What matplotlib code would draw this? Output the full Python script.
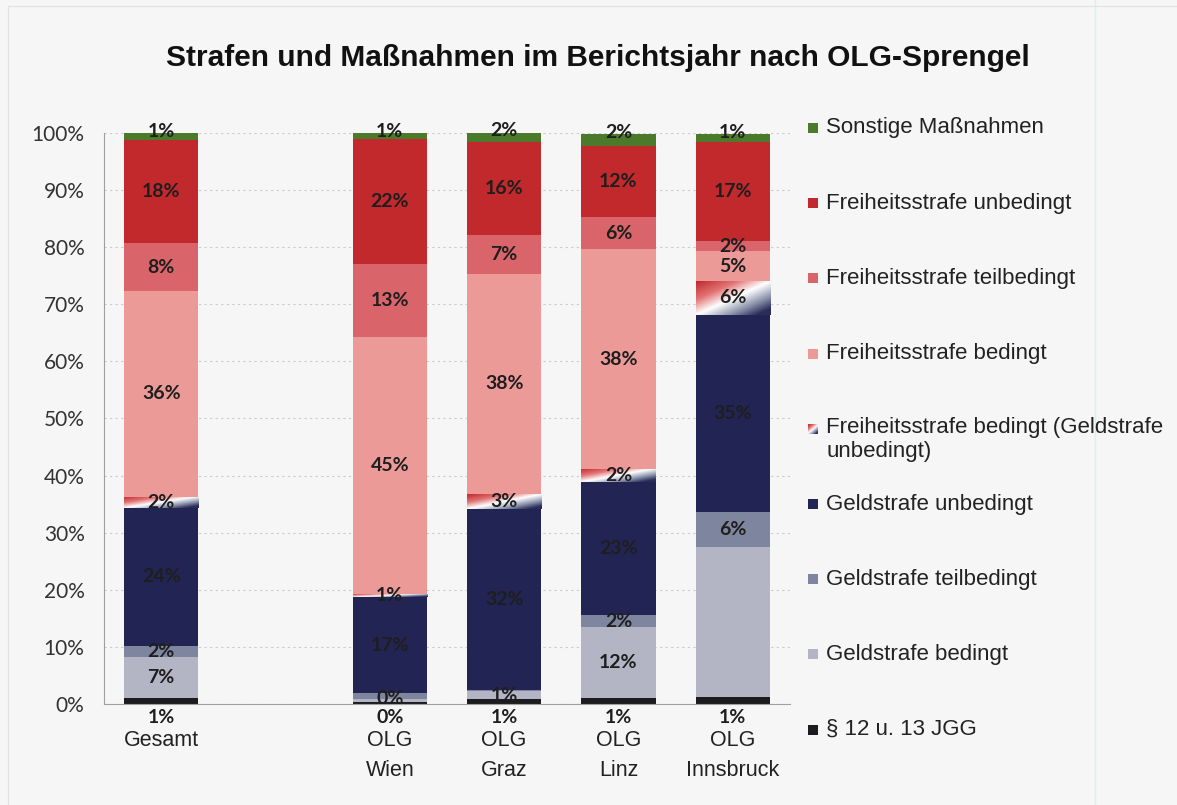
import matplotlib
matplotlib.use("Agg")
import matplotlib.pyplot as plt
import numpy as np
from matplotlib.colors import LinearSegmentedColormap
from matplotlib.patches import Rectangle
from matplotlib.lines import Line2D

# categories (empty slot between Gesamt and the OLG bars)
categories = ["Gesamt", "", "OLG\nWien", "OLG\nGraz", "OLG\nLinz", "OLG\nInnsbruck"]

# series, bottom to top, values in percent
series_names = ["§ 12 u. 13 JGG", "Geldstrafe bedingt", "Geldstrafe teilbedingt",
                "Geldstrafe unbedingt", "Freiheitsstrafe bedingt (Geldstrafe\nunbedingt)",
                "Freiheitsstrafe bedingt", "Freiheitsstrafe teilbedingt",
                "Freiheitsstrafe unbedingt", "Sonstige Maßnahmen"]
jgg      = [1.0, 0, 0.4, 0.8, 1.0, 1.2]
g_bed    = [7.2, 0, 0.4, 1.4, 12.4, 26.3]
g_teil   = [2.0, 0, 1.1, 0.3, 2.1, 6.1]
g_unbed  = [24.1, 0, 16.8, 31.7, 23.3, 34.6]
f_bed_g  = [2.0, 0, 0.6, 2.6, 2.4, 5.9]
f_bed    = [36.0, 0, 45.0, 38.5, 38.4, 5.2]
f_teil   = [8.4, 0, 12.8, 6.9, 5.7, 1.8]
f_unbed  = [18.1, 0, 21.9, 16.2, 12.4, 17.4]
sonstige = [1.2, 0, 1.0, 1.9, 2.2, 1.4]
values = [jgg, g_bed, g_teil, g_unbed, f_bed_g, f_bed, f_teil, f_unbed, sonstige]

colors = ["#1c1c1e", "#b3b5c5", "#7e869f", "#222453", None,
          "#eb9a98", "#d9646a", "#c1292c", "#4b7a2a"]

# labels not shown in the original (series index, category index)
hidden = {(2, 2), (2, 3), (1, 5)}

grad_cmap = LinearSegmentedColormap.from_list(
    "fbg", [(0, "#c1292c"), (0.3, "#e27474"), (0.55, "#ffffff"),
            (0.8, "#8b93ab"), (1, "#2a2d5a")])

bg = "#f6f6f6"
W, H = 1177, 805
fig = plt.figure(figsize=(W / 100, H / 100), dpi=100, facecolor=bg)
ax = fig.add_axes([104 / W, 101 / H, 686 / W, 571 / H], facecolor=bg)

x = np.arange(len(categories))
width = 0.65
bottom = np.zeros(len(categories))
for i, vals in enumerate(values):
    vals = np.array(vals)
    if colors[i] is None:
        # gradient filled segment
        bars = ax.bar(x, vals, width, bottom=bottom, color="none", linewidth=0)
        for b in bars:
            if b.get_height() <= 0:
                continue
            x0, y0 = b.get_x(), b.get_y()
            w, h = b.get_width(), b.get_height()
            xx, yy = np.meshgrid(np.linspace(0, 1, 60), np.linspace(1, 0, 60))
            t = np.clip(0.55 * xx + 0.55 * (1 - yy), 0, 1)
            im = ax.imshow(t, cmap=grad_cmap, vmin=0, vmax=1, aspect="auto",
                           extent=[x0, x0 + w, y0, y0 + h], zorder=2,
                           interpolation="bilinear")
            im.set_clip_path(b)
    else:
        bars = ax.bar(x, vals, width, bottom=bottom, color=colors[i], linewidth=0, zorder=2)
    for j, b in enumerate(bars):
        if categories[j] == "" or (i, j) in hidden:
            continue
        v = vals[j]
        if i == 0:
            ly = -2.3
        elif i == len(values) - 1:
            ly = bottom[j] + v + 0.2
        else:
            ly = max(bottom[j] + v / 2, 1.0)
        ax.text(x[j], ly, f"{int(round(v))}%", ha="center", va="center",
                fontsize=14, fontweight="bold", family="Lato", color="#1e1e1e",
                zorder=5, clip_on=False)
    bottom += vals

ax.set_xlim(-0.5, len(categories) - 0.5)
ax.set_ylim(0, 100)
ax.set_yticks(np.arange(0, 101, 10))
ax.set_yticklabels([f"{v}%" for v in range(0, 101, 10)], family="Lato",
                   fontsize=15, color="#333333")
ax.set_xticks(x)
ax.set_xticklabels(categories, family="Liberation Sans", fontsize=15.5, color="#222222",
                   linespacing=1.55)
ax.tick_params(axis="x", length=0, pad=19)
ax.tick_params(axis="y", length=0, pad=14)
ax.yaxis.grid(True, color="#cbcbcb", linestyle=(0, (2, 3)), linewidth=0.8)
ax.set_axisbelow(True)
for s in ["top", "right"]:
    ax.spines[s].set_visible(False)
for s in ["left", "bottom"]:
    ax.spines[s].set_color("#a0a0a0")
    ax.spines[s].set_linewidth(0.8)

fig.text(598 / W, 1 - 58 / H, "Strafen und Maßnahmen im Berichtsjahr nach OLG-Sprengel",
         ha="center", va="center", fontsize=21.5, fontweight="bold",
         family="Liberation Sans", color="#111111")

# legend, top entry = top series
for k, i in enumerate(range(len(series_names) - 1, -1, -1)):
    yc = 128 + k * 75.2
    if colors[i] is None:
        lax = fig.add_axes([808 / W, 1 - (yc + 5) / H, 10 / W, 10 / H])
        xx, yy = np.meshgrid(np.linspace(0, 1, 20), np.linspace(1, 0, 20))
        lax.imshow(np.clip(0.5 * xx + 0.6 * (1 - yy), 0, 1), cmap=grad_cmap,
                   vmin=0, vmax=1, aspect="auto")
        lax.axis("off")
    else:
        fig.patches.append(Rectangle((808 / W, 1 - (yc + 5) / H), 10 / W, 10 / H,
                                     transform=fig.transFigure, facecolor=colors[i],
                                     edgecolor="none"))
    if "\n" in series_names[i]:
        fig.text(826 / W, 1 - (yc - 12) / H, series_names[i], ha="left", va="top",
                 fontsize=16, family="Liberation Sans", color="#222222", linespacing=1.2)
    else:
        fig.text(826 / W, 1 - yc / H, series_names[i], ha="left", va="center",
                 fontsize=16, family="Liberation Sans", color="#222222")

# faint frame lines of the original screenshot
fig.add_artist(Line2D([1095 / W, 1095 / W], [0, 1], color="#dcefeb", linewidth=1))
fig.add_artist(Line2D([8 / W, 8 / W], [0, 1 - 6 / H], color="#e2e2e2", linewidth=0.8))
fig.add_artist(Line2D([8 / W, 1], [1 - 6 / H, 1 - 6 / H], color="#e2e2e2", linewidth=0.8))

fig.savefig("out.png", dpi=100, facecolor=bg)
